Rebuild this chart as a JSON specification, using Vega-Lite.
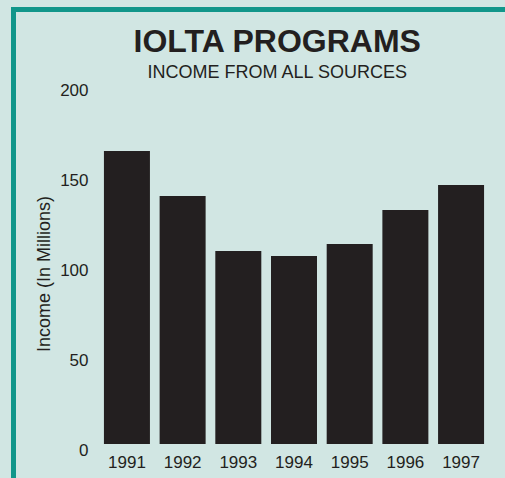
{
  "$schema": "https://vega.github.io/schema/vega-lite/v6.json",
  "width": 491.5,
  "height": 468.5,
  "autosize": {"type": "none"},
  "padding": {"left": 13.5, "top": 9.5, "right": 0, "bottom": 0},
  "background": "#d1e6e3",
  "title": {
    "text": "IOLTA PROGRAMS",
    "subtitle": "INCOME FROM ALL SOURCES",
    "frame": "group",
    "anchor": "middle",
    "dx": 18,
    "offset": -73,
    "font": "Liberation Sans",
    "fontSize": 32,
    "fontWeight": "bold",
    "color": "#231f20",
    "subtitleFont": "Liberation Sans",
    "subtitleFontSize": 18,
    "subtitleColor": "#231f20",
    "subtitlePadding": 5
  },
  "data": {
    "values": [
      {"year": "1991", "income": 163.2},
      {"year": "1992", "income": 138.2},
      {"year": "1993", "income": 107.5},
      {"year": "1994", "income": 104.7},
      {"year": "1995", "income": 111.4},
      {"year": "1996", "income": 130.4},
      {"year": "1997", "income": 144.3}
    ]
  },
  "mark": {"type": "bar", "color": "#231f20"},
  "encoding": {
    "x": {
      "field": "year",
      "type": "ordinal",
      "scale": {"paddingInner": 0.174, "paddingOuter": 1.0, "align": 0.812},
      "axis": {
        "title": null,
        "orient": "bottom",
        "offset": -24,
        "labelAngle": 0,
        "ticks": false,
        "domain": false,
        "labelPadding": 0,
        "labelFontSize": 17,
        "labelFont": "Liberation Sans",
        "labelColor": "#231f20"
      }
    },
    "y": {
      "field": "income",
      "type": "quantitative",
      "scale": {"domain": [-18.94, 242.06], "nice": false},
      "axis": {
        "title": "Income (In Millions)",
        "values": [0, 50, 100, 150, 200],
        "offset": -74.5,
        "ticks": false,
        "domain": false,
        "grid": false,
        "labelPadding": 0,
        "labelOffset": 6,
        "labelFontSize": 17,
        "labelFont": "Liberation Sans",
        "labelColor": "#231f20",
        "titleFont": "Liberation Sans",
        "titleFontSize": 18,
        "titleFontWeight": "normal",
        "titleColor": "#231f20",
        "titleAngle": -90,
        "titleBaseline": "middle",
        "titleAlign": "center",
        "titleX": -44,
        "titleY": 264
      }
    }
  },
  "config": {
    "view": {
      "stroke": "#11968a",
      "strokeWidth": 5,
      "strokeDash": [491.5, 960, 468.5],
      "strokeCap": "square"
    }
  }
}
